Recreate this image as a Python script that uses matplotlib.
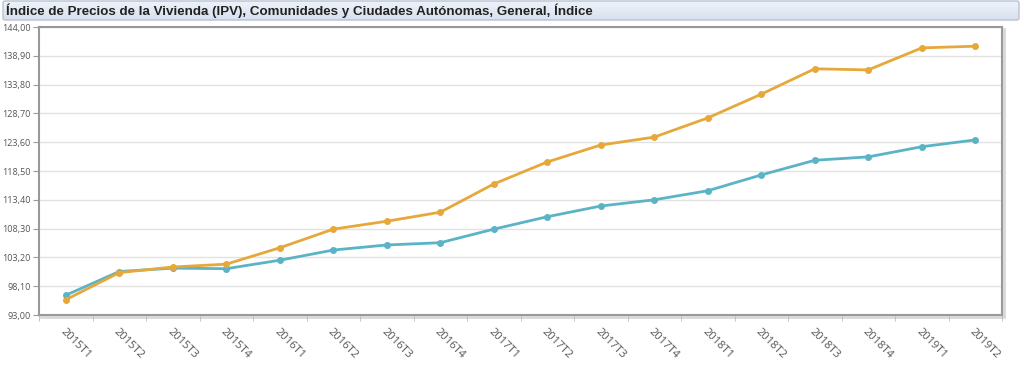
import numpy as np
import matplotlib.pyplot as plt
from matplotlib.patches import FancyBboxPatch
from matplotlib.ticker import FuncFormatter

periods = ['2015T1', '2015T2', '2015T3', '2015T4',
           '2016T1', '2016T2', '2016T3', '2016T4',
           '2017T1', '2017T2', '2017T3', '2017T4',
           '2018T1', '2018T2', '2018T3', '2018T4',
           '2019T1', '2019T2']

serie_naranja = [95.7, 100.5, 101.5, 102.0, 104.9, 108.2, 109.6, 111.2, 116.2,
                 120.1, 123.1, 124.5, 127.9, 132.1, 136.6, 136.4, 140.3, 140.6]
serie_azul = [96.5, 100.7, 101.3, 101.2, 102.7, 104.5, 105.4, 105.8, 108.2,
              110.4, 112.3, 113.4, 115.0, 117.8, 120.4, 121.0, 122.8, 124.0]

y_ticks = [93.0, 98.1, 103.2, 108.3, 113.4, 118.5, 123.6, 128.7, 133.8, 138.9, 144.0]

title = 'Índice de Precios de la Vivienda (IPV), Comunidades y Ciudades Autónomas, General, Índice'

W, H = 1024, 367
fig = plt.figure(figsize=(W / 100, H / 100), dpi=100)

# title bar
bar_ax = fig.add_axes([0, 0, 1, 1])
bar_ax.set_xlim(0, W)
bar_ax.set_ylim(H, 0)
bar_ax.axis('off')
grad = np.linspace(0, 1, 50).reshape(-1, 1)
bar_ax.imshow(grad, extent=[3, 1019, 20, 1], cmap=plt.matplotlib.colors.LinearSegmentedColormap.from_list(
    'g', ['#eef2fa', '#d9e1ee']), aspect='auto', zorder=1)
bar_ax.add_patch(FancyBboxPatch((3, 1), 1016, 19, boxstyle='round,pad=0,rounding_size=2',
                                fill=False, edgecolor='#b8c2d2', lw=1, zorder=2))
bar_ax.text(6, 11, title, fontsize=9.6, fontweight='bold', color='#222222',
            va='center', ha='left', family='Liberation Sans', zorder=3)
# shadow of plot frame
bar_ax.plot([1004, 1004], [29, 316], color='#d8d8d8', lw=2, zorder=0)
bar_ax.plot([41, 1004], [317, 317], color='#d8d8d8', lw=2, zorder=0)

left, right, top, bottom = 39, 1002, 27, 315
ax = fig.add_axes([left / W, 1 - bottom / H, (right - left) / W, (bottom - top) / H])

x = np.arange(len(periods))
ax.plot(x, serie_azul, color='#5ab4c6', lw=2, marker='o', ms=4, zorder=3)
ax.plot(x, serie_naranja, color='#e6a83a', lw=2, marker='o', ms=4, zorder=4)

ax.set_xlim(-0.5, len(periods) - 0.5)
ax.set_ylim(93.0, 144.0)
ax.set_yticks(y_ticks)
ax.yaxis.set_major_formatter(FuncFormatter(lambda v, p: f'{v:.2f}'.replace('.', ',')))
ax.grid(axis='y', color='#e2e2e2', lw=1)
ax.set_axisbelow(True)

ax.set_xticks(x)
ax.set_xticklabels(periods, rotation=-45, ha='left', va='top', rotation_mode='anchor')
ax.set_xticks(np.arange(-0.5, len(periods), 1), minor=True)
ax.tick_params(axis='x', which='major', length=0, pad=8, labelsize=8, labelcolor='#555555')
ax.tick_params(axis='x', which='minor', length=4, color='#bbbbbb')
ax.tick_params(axis='y', length=4, color='#999999', labelsize=6.5, labelcolor='#555555', pad=2)
for lbl in ax.get_xticklabels():
    lbl.set_family('Open Sans')
for lbl in ax.get_yticklabels():
    lbl.set_family('Open Sans')

for s in ax.spines.values():
    s.set_color('#999999')
    s.set_linewidth(1.5)

fig.savefig('out.png', dpi=100)
